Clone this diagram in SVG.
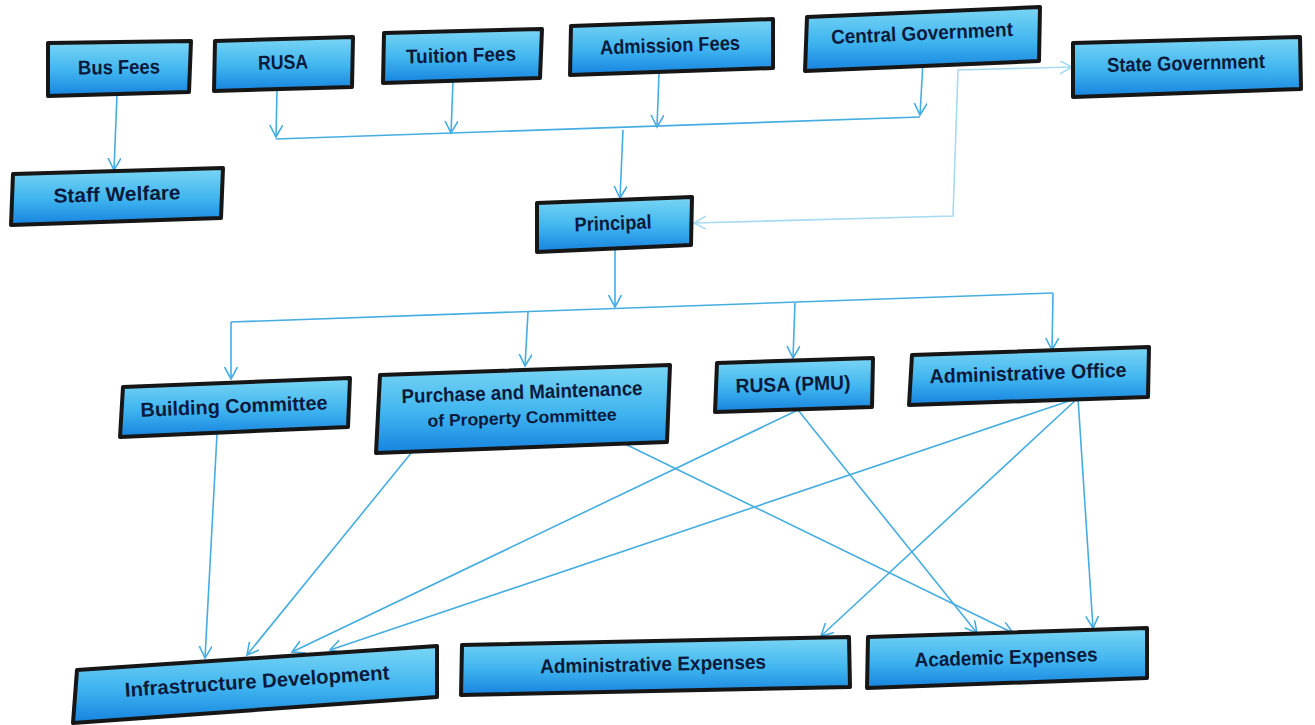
<svg xmlns="http://www.w3.org/2000/svg" width="1315" height="725" viewBox="0 0 1315 725">
<style>
.box{fill:url(#g);stroke:#161616;stroke-width:4;stroke-linejoin:round}
.t{font-family:"Liberation Sans",Arial,sans-serif;font-weight:bold;font-size:20px;fill:#0b1a3c;text-anchor:middle;dominant-baseline:central}
.s{font-size:17px}
.c{fill:none;stroke:#45ade2;stroke-width:1.6}
.p{fill:none;stroke:#a6dbf1;stroke-width:1.6}
</style>
<defs>
<linearGradient id="g" x1="0" y1="0" x2="0" y2="1">
<stop offset="0" stop-color="#7ad6f4"/>
<stop offset="0.55" stop-color="#3fb4ef"/>
<stop offset="1" stop-color="#1683df"/>
</linearGradient>
<marker id="a" markerUnits="userSpaceOnUse" markerWidth="14" markerHeight="14" refX="12" refY="6.5" orient="auto">
<path d="M0,0 L12,6.5 L0,13" fill="none" stroke="#45ade2" stroke-width="1.6"/>
</marker>
<marker id="ap" markerUnits="userSpaceOnUse" markerWidth="14" markerHeight="14" refX="12" refY="6.5" orient="auto-start-reverse">
<path d="M0,0 L12,6.5 L0,13" fill="none" stroke="#a6dbf1" stroke-width="1.6"/>
</marker>
</defs>
<rect width="1315" height="725" fill="#ffffff"/>

<g id="connectors">
<path class="c" d="M117,94 L114,170" marker-end="url(#a)"/>
<path class="c" d="M277,89 L276,137" marker-end="url(#a)"/>
<path class="c" d="M453,81 L451,133" marker-end="url(#a)"/>
<path class="c" d="M659,73 L657,127" marker-end="url(#a)"/>
<path class="c" d="M923,62 L920,115" marker-end="url(#a)"/>
<path class="c" d="M276,139 L920,117"/>
<path class="c" d="M623,130 L620,198" marker-end="url(#a)"/>
<path class="p" d="M694,223 L953,216 L958,70 L1072,67" marker-start="url(#ap)" marker-end="url(#ap)"/>
<path class="c" d="M615,250 L615,307" marker-end="url(#a)"/>
<path class="c" d="M231,322 L1053,293"/>
<path class="c" d="M231,322 L231,379" marker-end="url(#a)"/>
<path class="c" d="M528,312 L525,366" marker-end="url(#a)"/>
<path class="c" d="M795,303 L793,358" marker-end="url(#a)"/>
<path class="c" d="M1053,293 L1052,350" marker-end="url(#a)"/>
<path class="c" d="M217,434 L205,658" marker-end="url(#a)"/>
<path class="c" d="M412,452 L247,655" marker-end="url(#a)"/>
<path class="c" d="M798,410 L292,652" marker-end="url(#a)"/>
<path class="c" d="M1078,398 L330,650" marker-end="url(#a)"/>
<path class="c" d="M623,443 L1013,633" marker-end="url(#a)"/>
<path class="c" d="M798,410 L977,633" marker-end="url(#a)"/>
<path class="c" d="M1078,398 L821,636" marker-end="url(#a)"/>
<path class="c" d="M1078,398 L1093,628" marker-end="url(#a)"/>
</g>

<g id="bus-fees"><polygon class="box" points="48,43 191,41 189,92 48,96"/><text class="t" x="119" y="67" textLength="82" lengthAdjust="spacingAndGlyphs" transform="rotate(-0.8 119 67)">Bus Fees</text></g>
<g id="rusa"><polygon class="box" points="215,41 353,37 352,87 214,91"/><text class="t" x="283" y="62" textLength="50" lengthAdjust="spacingAndGlyphs" transform="rotate(-1.7 283 62)">RUSA</text></g>
<g id="tuition-fees"><polygon class="box" points="384,33 542,29 540,78 383,83"/><text class="t" x="461" y="55" textLength="110" lengthAdjust="spacingAndGlyphs" transform="rotate(-1.5 461 55)">Tuition Fees</text></g>
<g id="admission-fees"><polygon class="box" points="571,26 773,19 773,68 570,75"/><text class="t" x="670" y="45" textLength="140" lengthAdjust="spacingAndGlyphs" transform="rotate(-2 670 45)">Admission Fees</text></g>
<g id="central-government"><polygon class="box" points="807,17 1040,7 1039,61 805,71"/><text class="t" x="922" y="33" textLength="182" lengthAdjust="spacingAndGlyphs" transform="rotate(-2.5 922 33)">Central Government</text></g>
<g id="state-government"><polygon class="box" points="1073,43 1300,37 1301,89 1073,97"/><text class="t" x="1186" y="63" textLength="158" lengthAdjust="spacingAndGlyphs" transform="rotate(-1.5 1186 63)">State Government</text></g>
<g id="staff-welfare"><polygon class="box" points="13,174 223,168 221,218 11,225"/><text class="t" x="117" y="194" textLength="127" lengthAdjust="spacingAndGlyphs" transform="rotate(-1.6 117 194)">Staff Welfare</text></g>
<g id="principal"><polygon class="box" points="537,203 692,197 691,245 537,252"/><text class="t" x="613" y="223" textLength="77" lengthAdjust="spacingAndGlyphs" transform="rotate(-2.2 613 223)">Principal</text></g>
<g id="building-committee"><polygon class="box" points="123,387 350,378 348,427 120,437"/><text class="t" x="234" y="406" textLength="187" lengthAdjust="spacingAndGlyphs" transform="rotate(-2.3 234 406)">Building Committee</text></g>
<g id="purchase-maintenance"><polygon class="box" points="380,375 670,365 667,442 376,453"/><text class="t" x="522" y="392" textLength="241" lengthAdjust="spacingAndGlyphs" transform="rotate(-2 522 392)">Purchase and Maintenance</text><text class="t s" x="522" y="418" textLength="189" lengthAdjust="spacingAndGlyphs" transform="rotate(-2 522 418)">of Property Committee</text></g>
<g id="rusa-pmu"><polygon class="box" points="717,363 873,358 872,407 715,412"/><text class="t" x="793" y="384" textLength="115" lengthAdjust="spacingAndGlyphs" transform="rotate(-1.8 793 384)">RUSA (PMU)</text></g>
<g id="administrative-office"><polygon class="box" points="912,355 1149,347 1148,397 909,405"/><text class="t" x="1028" y="373" textLength="197" lengthAdjust="spacingAndGlyphs" transform="rotate(-1.9 1028 373)">Administrative Office</text></g>
<g id="infrastructure-development"><polygon class="box" points="77,670 437,646 437,697 73,723"/><text class="t" x="257" y="681" textLength="265" lengthAdjust="spacingAndGlyphs" transform="rotate(-3.8 257 681)">Infrastructure Development</text></g>
<g id="administrative-expenses"><polygon class="box" points="462,645 849,637 850,687 461,695"/><text class="t" x="653" y="664" textLength="226" lengthAdjust="spacingAndGlyphs" transform="rotate(-1.2 653 664)">Administrative Expenses</text></g>
<g id="academic-expenses"><polygon class="box" points="868,637 1147,628 1147,678 867,688"/><text class="t" x="1006" y="657" textLength="183" lengthAdjust="spacingAndGlyphs" transform="rotate(-1.8 1006 657)">Academic Expenses</text></g>
</svg>
